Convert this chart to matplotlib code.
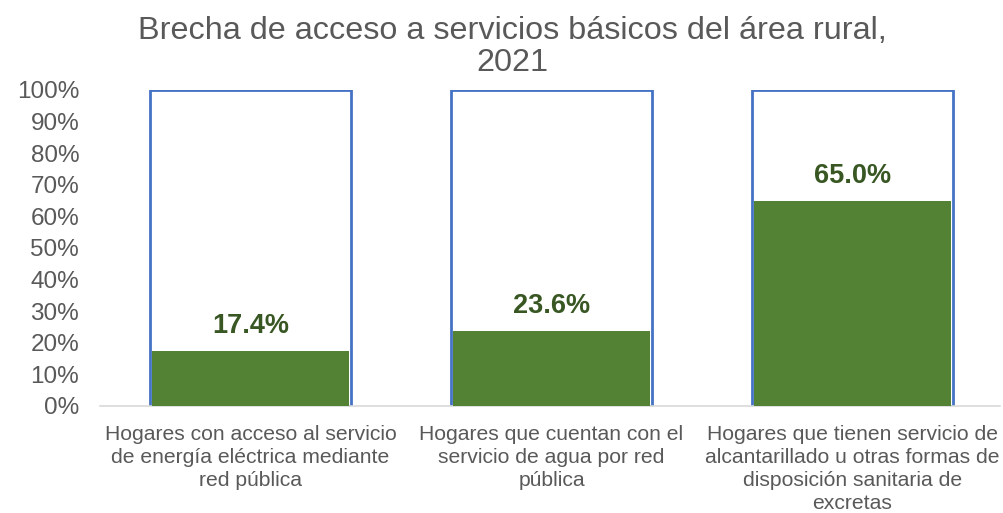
import numpy as np
import matplotlib.pyplot as plt

plt.rcParams['font.family'] = ['Liberation Sans', 'DejaVu Sans']

categorias = [
    'Hogares con acceso al servicio\nde energía eléctrica mediante\nred pública',
    'Hogares que cuentan con el\nservicio de agua por red\npública',
    'Hogares que tienen servicio de\nalcantarillado u otras formas de\ndisposición sanitaria de\nexcretas',
]
valores = [17.4, 23.6, 65.0]
total = [100, 100, 100]

fig = plt.figure(figsize=(10.04, 5.13), dpi=100)
ax = fig.add_axes([100 / 1004, 1 - 406 / 513, 900 / 1004, 316 / 513])

x = np.arange(len(categorias))
ancho = 0.665

# barra de fondo (100%) con borde azul
ax.bar(x, total, width=ancho, color='white', edgecolor='#4472C4', linewidth=2, zorder=2)
# brecha
ax.bar(x, valores, width=ancho - 0.008, color='#548235', zorder=3)

for xi, v in zip(x, valores):
    ax.text(xi, v + 7.9, f'{v:.1f}%', ha='center', va='center', fontsize=19.5,
            fontweight='bold', color='#385723', zorder=4)

ax.set_xlim(-0.5, 2.49)
ax.set_ylim(0, 100)
ax.set_yticks(np.arange(0, 101, 10))
ax.set_yticklabels([f'{t}%' for t in range(0, 101, 10)], fontsize=17.5, color='#595959')
ax.set_xticks(x)
ax.set_xticklabels(categorias, fontsize=15.2, color='#595959', linespacing=1.26)
ax.tick_params(axis='both', length=0)
ax.tick_params(axis='x', pad=14)
ax.tick_params(axis='y', pad=15)

for s in ['top', 'right', 'left']:
    ax.spines[s].set_visible(False)
ax.spines['bottom'].set_color('#D9D9D9')
ax.spines['bottom'].set_linewidth(1.2)

fig.text(0.51, 1 - 47 / 513, 'Brecha de acceso a servicios básicos del área rural,\n2021',
         ha='center', va='center', fontsize=23.3, color='#595959', linespacing=1.05)

fig.savefig('out.png', dpi=100)
